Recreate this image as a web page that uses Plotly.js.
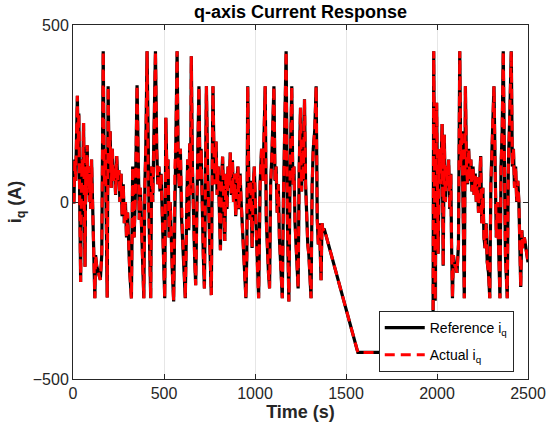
<!DOCTYPE html>
<html><head><meta charset="utf-8">
<script src="https://cdn.plot.ly/plotly-3.0.1.min.js"></script>
<style>html,body{margin:0;padding:0;background:#fff}#chart{width:550px;height:435px}</style>
</head><body><div id="chart"></div>
<script>
const time = [0,5,10,15,20,24,28,32,36,40,42,46,50,54,58,62,66,70,74,78,82,86,90,94,98,102,106,110,114,120,124,130,140,150,158,166,172,178,184,188,193,198,204,210,216,222,228,234,240,246,252,258,264,270,276,282,288,294,300,306,312,321,328,336,344,352,358,364,370,376,382,389,395,400,407,414,420,427,432,438,446,453,460,466,472,478,484,490,498,504,510,516,522,528,534,540,546,553,560,566,572,578,584,590,596,602,608,617,624,630,636,641,646,650,656,662,668,674,680,686,692,698,704,710,716,722,728,733,740,746,752,760,765,769,774,780,786,792,798,804,810,816,822,828,834,840,846,852,858,864,870,876,882,888,894,900,906,912,918,924,930,936,942,950,955,960,966,972,978,984,990,996,1002,1008,1014,1020,1028,1036,1044,1050,1056,1062,1068,1074,1080,1086,1092,1098,1104,1110,1116,1122,1128,1134,1140,1150,1156,1162,1171,1178,1186,1192,1196,1202,1208,1214,1220,1226,1232,1237,1243,1250,1256,1262,1266,1272,1278,1284,1290,1296,1302,1308,1314,1320,1328,1336,1342,1348,1354,1358,1363,1368,1373,1380,1565,1978,1982,1990,1998,2006,2014,2020,2028,2034,2040,2046,2052,2058,2064,2070,2076,2080,2085,2090,2098,2104,2110,2118,2125,2131,2137,2143,2150,2156,2162,2168,2174,2180,2186,2192,2198,2204,2210,2216,2222,2228,2234,2240,2246,2252,2258,2264,2270,2276,2283,2290,2296,2302,2308,2313,2320,2326,2332,2338,2346,2352,2358,2364,2370,2376,2386,2392,2400,2408,2414,2420,2426,2432,2438,2444,2450,2455,2460,2466,2472,2480,2490,2500];
const iqReference = [0,0,120,60,200,300,150,250,50,-100,-226,30,120,80,223,0,-183,100,20,160,40,100,0,80,-20,120,30,-60,-150,-272,-150,-180,-200,-220,-150,426,50,150,-100,-270,327,100,200,40,150,60,100,20,130,60,90,0,80,-40,50,-60,0,-100,-30,-150,-200,-272,100,-100,50,330,80,-50,40,-80,-150,-272,50,150,426,0,-100,-272,100,0,200,426,150,50,100,30,80,-50,-150,-272,238,80,120,-100,0,-150,-200,-281,100,200,426,100,40,150,-40,-100,-150,-272,-50,120,-80,165,20,412,100,-50,-150,-235,50,150,327,60,150,-50,-150,-244,100,327,80,-40,-150,-263,100,327,150,50,171,20,100,-60,-136,60,128,0,-110,80,-20,100,40,140,20,118,0,80,-40,60,100,-20,80,0,-60,-120,-200,-272,-150,327,50,-50,60,-130,40,100,0,-120,-200,-272,50,150,60,200,327,-50,-150,-200,-244,50,120,200,327,60,100,-30,50,-100,-180,-272,0,200,426,-50,-281,50,150,327,50,100,-60,-120,-200,-244,100,266,30,150,60,290,50,-50,-120,-150,-200,-272,50,150,200,327,-50,-120,-60,-150,-221,-60,-80,-75,-425,-425,426,-279,280,-146,150,50,220,-180,190,0,100,40,120,-20,80,-120,-272,-150,-180,-185,-200,-120,426,100,200,0,-272,327,100,50,150,60,120,30,100,20,80,0,70,-30,60,130,-60,40,-100,-130,-60,-170,-200,-272,50,150,200,327,80,-100,0,-150,-272,100,200,426,0,-150,-272,100,250,426,100,150,40,100,0,60,0,-150,-240,-80,-130,-100,-140,-170];
const iqActual = [0,0,120,60,200,300,150,250,50,-100,-226,30,120,80,223,0,-183,100,20,160,40,100,0,80,-20,120,30,-60,-150,-272,-150,-180,-200,-220,-150,426,50,150,-100,-270,327,100,200,40,150,60,100,20,130,60,90,0,80,-40,50,-60,0,-100,-30,-150,-200,-272,100,-100,50,330,80,-50,40,-80,-150,-272,50,150,426,0,-100,-272,100,0,200,426,150,50,100,30,80,-50,-150,-272,238,80,120,-100,0,-150,-200,-281,100,200,426,100,40,150,-40,-100,-150,-272,-50,120,-80,165,20,412,100,-50,-150,-235,50,150,327,60,150,-50,-150,-244,100,327,80,-40,-150,-263,100,327,150,50,171,20,100,-60,-136,60,128,0,-110,80,-20,100,40,140,20,118,0,80,-40,60,100,-20,80,0,-60,-120,-200,-272,-150,327,50,-50,60,-130,40,100,0,-120,-200,-272,50,150,60,200,327,-50,-150,-200,-244,50,120,200,327,60,100,-30,50,-100,-180,-272,0,200,426,-50,-281,50,150,327,50,100,-60,-120,-200,-244,100,266,30,150,60,290,50,-50,-120,-150,-200,-272,50,150,200,327,-50,-120,-60,-150,-221,-60,-80,-75,-425,-425,426,-279,280,-146,150,50,220,-180,190,0,100,40,120,-20,80,-120,-272,-150,-180,-185,-200,-120,426,100,200,0,-272,327,100,50,150,60,120,30,100,20,80,0,70,-30,60,130,-60,40,-100,-130,-60,-170,-200,-272,50,150,200,327,80,-100,0,-150,-272,100,200,426,0,-150,-272,100,250,426,100,150,40,100,0,60,0,-150,-240,-80,-130,-100,-140,-170];
const xTicks = [0,500,1000,1500,2000,2500];
const yTicks = [-500,0,500];

const font = 'Liberation Sans, Arial, Helvetica, sans-serif';
const axisColor = '#262626';
const traces = [
  {x: time, y: iqReference, type: 'scatter', mode: 'lines', name: 'Reference i<sub>q</sub>',
   legendgroup: 'ref', line: {color: '#000000', width: 3.2}},
  {x: time, y: iqActual, type: 'scatter', mode: 'lines', name: 'Actual i<sub>q</sub>',
   legendgroup: 'act', line: {color: '#ff0000', width: 3, dash: '10px,6px'}}
];
const axisCommon = {
  showline: true, mirror: 'ticks', linecolor: axisColor, linewidth: 1,
  ticks: 'inside', ticklen: 5, tickcolor: axisColor,
  showgrid: true, gridcolor: '#e6e6e6', gridwidth: 1, zeroline: false,
  tickfont: {family: font, size: 16, color: axisColor}
};
const layout = {
  width: 550, height: 435,
  margin: {l: 73, r: 21.5, t: 25, b: 56},
  paper_bgcolor: '#ffffff', plot_bgcolor: '#ffffff',
  title: {text: '<b>q-axis Current Response</b>', font: {family: font, size: 18, color: '#000'},
          xref: 'paper', x: 0.5, xanchor: 'center', yref: 'container', y: 0.973, yanchor: 'middle'},
  xaxis: Object.assign({}, axisCommon, {range: [0, 2500], tickvals: xTicks,
    title: {text: '<b>Time (s)</b>', font: {family: font, size: 18, color: axisColor}, standoff: 4}}),
  yaxis: Object.assign({}, axisCommon, {range: [-500, 500], tickvals: yTicks,
    title: {text: '<b>i<sub>q</sub> (A)</b>', font: {family: font, size: 18, color: axisColor}, standoff: 6}}),
  showlegend: true,
  legend: {x: 0.672, y: 0.192, xanchor: 'left', yanchor: 'top',
           bgcolor: '#ffffff', bordercolor: axisColor, borderwidth: 1, itemwidth: 40,
           font: {family: font, size: 14, color: '#000'}, tracegroupgap: 6}
};
Plotly.newPlot('chart', traces, layout, {displayModeBar: false, staticPlot: true});
</script></body></html>
